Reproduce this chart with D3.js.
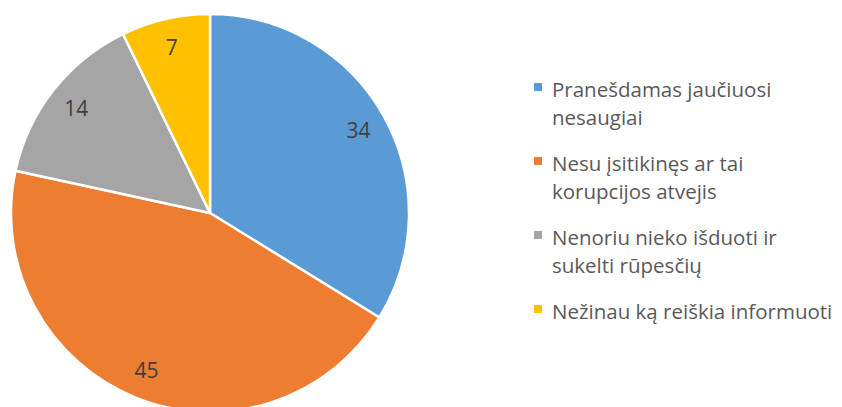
<!DOCTYPE html>
<html>
<head>
<meta charset="utf-8">
<script src="https://cdn.jsdelivr.net/npm/d3@7"></script>
<style>
  body { margin: 0; background: #fff; }
  svg { display: block; font-family: "Open Sans", "Noto Sans", sans-serif; }
</style>
</head>
<body>
<svg id="container"></svg>
<script>
const width = 842;
const height = 407;

// data (labels are shown rounded)
const categories = [
  ["Pranešdamas jaučiuosi", "nesaugiai"],
  ["Nesu įsitikinęs ar tai", "korupcijos atvejis"],
  ["Nenoriu nieko išduoti ir", "sukelti rūpesčių"],
  ["Nežinau ką reiškia informuoti"]
];
const values = [33.8, 44.6, 14.4, 7.2];
const colors = ["#5B9BD5", "#ED7D31", "#A5A5A5", "#FFC000"];

const cx = 210, cy = 213, radius = 199;
const fmt = d3.format(".0f");

const data = values.map((v, i) => ({value: v, lines: categories[i], color: colors[i]}));

const pie = d3.pie().value(d => d.value).sort(null);
const arc = d3.arc().innerRadius(0).outerRadius(radius);
const labelArc = d3.arc().innerRadius(170).outerRadius(170);

const svg = d3.select("#container")
    .attr("width", width)
    .attr("height", height)
    .attr("viewBox", [0, 0, width, height]);

const g = svg.append("g")
    .attr("transform", `translate(${cx},${cy})`);

const arcs = pie(data);

g.selectAll("path")
  .data(arcs)
  .join("path")
    .attr("d", arc)
    .attr("fill", d => d.data.color)
    .attr("stroke", "#fff")
    .attr("stroke-width", 2.5)
    .attr("stroke-linejoin", "round");

g.selectAll("text.val")
  .data(arcs)
  .join("text")
    .attr("class", "val")
    .attr("transform", d => `translate(${labelArc.centroid(d)})`)
    .attr("text-anchor", "middle")
    .attr("dy", "0.36em")
    .attr("font-size", 21)
    .attr("fill", "#404040")
    .text(d => fmt(d.data.value));

// legend
const legendX = 534, legendTop = 97, lineH = 28, itemGap = 74;

const item = svg.append("g")
  .selectAll("g")
  .data(data)
  .join("g")
    .attr("transform", (d, i) => `translate(${legendX},${legendTop + i * itemGap})`);

item.append("rect")
    .attr("x", 0)
    .attr("y", -14)
    .attr("width", 8)
    .attr("height", 8)
    .attr("fill", d => d.color);

item.append("text")
    .attr("font-size", 20.5)
    .attr("fill", "#595959")
  .selectAll("tspan")
  .data(d => d.lines)
  .join("tspan")
    .attr("x", 18)
    .attr("y", (d, i) => i * lineH)
    .text(d => d);
</script>
</body>
</html>
